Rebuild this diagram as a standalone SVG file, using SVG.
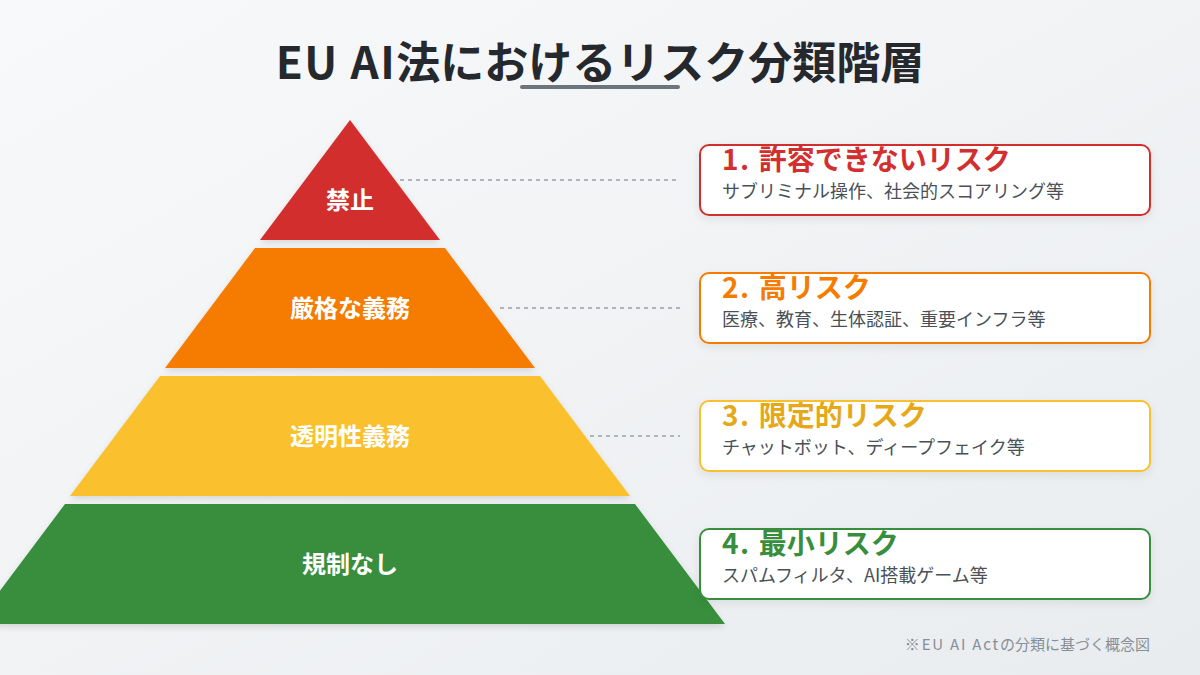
<svg xmlns="http://www.w3.org/2000/svg" width="1200" height="675" viewBox="0 0 1200 675">
<defs>
<linearGradient id="bg" x1="0" y1="0" x2="1" y2="1">
<stop offset="0" stop-color="#f8f9fa"/>
<stop offset="1" stop-color="#e9ecef"/>
</linearGradient>
<filter id="sh" x="-10%" y="-10%" width="120%" height="130%">
<feDropShadow dx="0" dy="3" stdDeviation="3" flood-color="#000" flood-opacity="0.12"/>
</filter>
<filter id="bsh" x="-10%" y="-20%" width="120%" height="150%">
<feDropShadow dx="0" dy="3" stdDeviation="4" flood-color="#000" flood-opacity="0.08"/>
</filter>
</defs>
<style>
text{font-family:"Noto Sans CJK JP","Noto Sans",sans-serif}
.title{font-size:44px;font-weight:700;fill:#25282c}
.lbl{font-size:24px;font-weight:700;fill:#ffffff}
.bt{font-size:28px;font-weight:700}
.bs{font-size:18px;fill:#495057}
.box{fill:#ffffff;stroke-width:2}
.dash{stroke:#adb5bd;stroke-width:2;stroke-dasharray:4 4;fill:none}
.note{font-size:15px;fill:#868e96}
.ls{letter-spacing:1.6px}
</style>
<rect width="1200" height="675" fill="url(#bg)"/>
<g id="title">
<text class="title" x="600" y="79" text-anchor="middle"><tspan class="ls">EU AI</tspan>法におけるリスク分類階層</text>
<rect x="520" y="85" width="160" height="4" rx="2" fill="#6c757d"/>
</g>
<g id="connectors">
<line class="dash" x1="400" y1="180" x2="678" y2="180"/>
<line class="dash" x1="500" y1="308" x2="680" y2="308"/>
<line class="dash" x1="590" y1="436" x2="680" y2="436"/>
</g>
<g id="layer-prohibited">
<polygon points="350,120 440,240 260,240" fill="#d32f2f" filter="url(#sh)"/>
<text class="lbl" x="350" y="209" text-anchor="middle">禁止</text>
</g>
<g id="layer-strict">
<polygon points="255,248 445,248 535,368 165,368" fill="#f57c00" filter="url(#sh)"/>
<text class="lbl" x="350" y="317" text-anchor="middle">厳格な義務</text>
</g>
<g id="layer-transparency">
<polygon points="160,376 540,376 630,496 70,496" fill="#fbc02d" filter="url(#sh)"/>
<text class="lbl" x="350" y="445" text-anchor="middle">透明性義務</text>
</g>
<g id="layer-none">
<polygon points="65,504 635,504 725,624 -25,624" fill="#388e3c" filter="url(#sh)"/>
<text class="lbl" x="350" y="573" text-anchor="middle">規制なし</text>
</g>
<g id="box-1">
<rect class="box" x="700" y="145" width="450" height="70" rx="9" stroke="#d32f2f" filter="url(#bsh)"/>
<text class="bt" x="722" y="170" fill="#d32f2f"><tspan class="ls">1. </tspan>許容できないリスク</text>
<text class="bs" x="722" y="198">サブリミナル操作、社会的スコアリング等</text>
</g>
<g id="box-2">
<rect class="box" x="700" y="273" width="450" height="70" rx="9" stroke="#f57c00" filter="url(#bsh)"/>
<text class="bt" x="722" y="298" fill="#f57c00"><tspan class="ls">2. </tspan>高リスク</text>
<text class="bs" x="722" y="326">医療、教育、生体認証、重要インフラ等</text>
</g>
<g id="box-3">
<rect class="box" x="700" y="401" width="450" height="70" rx="9" stroke="#fbc02d" filter="url(#bsh)"/>
<text class="bt" x="722" y="426" fill="#e6a817"><tspan class="ls">3. </tspan>限定的リスク</text>
<text class="bs" x="722" y="454">チャットボット、ディープフェイク等</text>
</g>
<g id="box-4">
<rect class="box" x="700" y="529" width="450" height="70" rx="9" stroke="#388e3c" filter="url(#bsh)"/>
<text class="bt" x="722" y="554" fill="#388e3c"><tspan class="ls">4. </tspan>最小リスク</text>
<text class="bs" x="722" y="582">スパムフィルタ、AI搭載ゲーム等</text>
</g>
<text class="note" x="1150" y="650" text-anchor="end"><tspan style="letter-spacing:1.8px">※EU AI Act</tspan>の分類に基づく概念図</text>
</svg>
